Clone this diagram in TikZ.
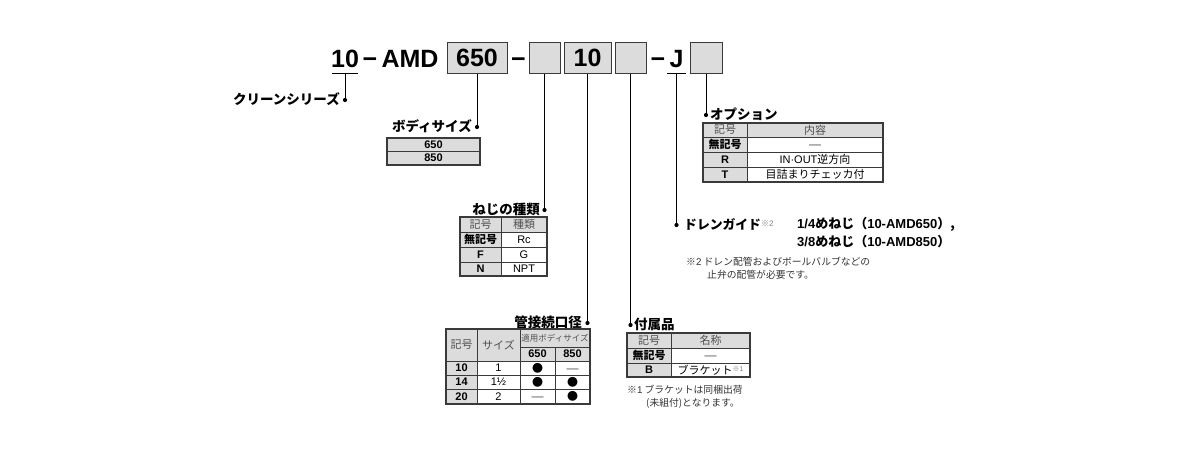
\documentclass[tikz,border=0pt]{standalone}
\usepackage{fontspec}
\setmainfont{Noto Sans CJK JP}
\newfontfamily\lat{Liberation Sans}
\usetikzlibrary{calc}
\definecolor{gr}{HTML}{DCDCDC}
\definecolor{bd}{HTML}{3A3A3A}
\definecolor{ht}{HTML}{505050}
\definecolor{nt}{HTML}{333333}
\newcommand\fs[1]{\fontsize{#1}{#1}\selectfont}
\newcommand\tcell[7]{%
  \draw[#6] (#2,#3) rectangle (#4,#5);
  \node[celltext] (#1) at ($(#2,#3)!.5!(#4,#5)$) {#7};}
\newcommand\emd{{\lat\fs{12}\color{ht}\vphantom{0}—}}
\newcommand\bul{{\fs{11}●}}
\tikzset{
  hdr/.style={fill=gr,draw=bd,line width=.6pt},
  dat/.style={fill=white,draw=bd,line width=.6pt},
  outer/.style={draw=bd,line width=1.3pt},
  celltext/.style={inner sep=0pt,font=\fs{11}},
  pbox/.style={draw=bd,fill=gr,line width=1pt,inner sep=0pt,font=\lat\bfseries\fs{25}},
  pnum/.style={inner sep=0pt,font=\lat\bfseries\fs{25}},
  conn/.style={draw=black,line width=1pt},
  dotc/.style={circle,fill=black,inner sep=0pt,minimum size=4.2pt},
  lbl/.style={inner sep=0pt,font=\bfseries\fs{13.5}},
  note/.style={inner sep=0pt,font=\fs{9.8},text=nt,anchor=west},
}
\begin{document}
\begin{tikzpicture}[x=1pt,y=-1pt]
\useasboundingbox[fill=white] (0,0) rectangle (1198,450);
% ---------- part number ----------
\node[pnum,anchor=base] (p10) at (345,67) {10};
\node[pnum,anchor=base] (m1) at (370,67) {−};
\node[pnum,anchor=base] (amd) at (410,67) {AMD};
\node[pbox,minimum width=60pt,minimum height=31pt] (b650) at (477,57.5) {650};
\node[pnum,anchor=base] (m2) at (518.5,67) {−};
\node[pbox,minimum width=31pt,minimum height=31pt] (b2) at (544.5,57.5) {};
\node[pbox,minimum width=47pt,minimum height=31pt] (b10) at (587.5,57.5) {10};
\node[pbox,minimum width=31pt,minimum height=31pt] (b4) at (630.5,57.5) {};
\node[pnum,anchor=base] (m3) at (658,67) {−};
\node[pnum,anchor=base] (pj) at (676.5,67) {J};
\node[pbox,minimum width=32pt,minimum height=31pt] (b5) at (706,57.5) {};
\draw[line width=1.5pt] (332,73.5) -- (358,73.5);
\draw[line width=1.5pt] (667,73.5) -- (686,73.5);
\coordinate (u10) at (345,73.5);
\coordinate (uj) at (676.5,73.5);
% ---------- dots ----------
\node[dotc] (d1) at (345,100) {};
\node[dotc] (d2) at (477,127) {};
\node[dotc] (d3) at (544.5,210) {};
\node[dotc] (d4) at (587.5,323) {};
\node[dotc] (d5) at (630.5,325) {};
\node[dotc] (d6) at (676.5,225) {};
\node[dotc] (d7) at (706,115) {};
\draw[conn] (u10) -- (d1.center);
\draw[conn] (b650.south) -- (d2.center);
\draw[conn] (b2.south) -- (d3.center);
\draw[conn] (b10.south) -- (d4.center);
\draw[conn] (b4.south) -- (d5.center);
\draw[conn] (uj) -- (d6.center);
\draw[conn] (b5.south) -- (d7.center);
% ---------- labels ----------
\node[lbl,anchor=east] (l1) at (340,99) {クリーンシリーズ};
\node[lbl,anchor=east] (l2) at (472,126) {ボディサイズ};
\node[lbl,anchor=east] (l3) at (540,209) {ねじの種類};
\node[lbl,anchor=east] (l4) at (582,322) {管接続口径};
\node[lbl,anchor=west] (l5) at (634,324) {付属品};
\node[lbl,anchor=west] (l7) at (710,114) {オプション};
\node[lbl,anchor=west,font=\bfseries\fs{12.8}] (l6) at (684,224) {ドレンガイド\raisebox{3pt}{\fs{8}\mdseries\color{gray}※\lat 2}};
\node[inner sep=0pt,anchor=west,font=\bfseries\fs{13}] (dr1) at (797,224) {{\lat 1/4}めねじ（{\lat 10-AMD650}）,};
\node[inner sep=0pt,anchor=west,font=\bfseries\fs{13}] (dr2) at (797,242) {{\lat 3/8}めねじ（{\lat 10-AMD850}）};
\node[note] (n2a) at (686,262) {※{\lat 2} ドレン配管およびボールバルブなどの};
\node[note] (n2b) at (707,275) {止弁の配管が必要です。};
% ---------- body size table ----------
\tcell{bs1}{387}{138}{480}{151}{hdr}{\lat\bfseries 650}
\tcell{bs2}{387}{151}{480}{165}{hdr}{\lat\bfseries 850}
\draw[outer] (387,138) rectangle (480,165);
% ---------- thread table ----------
\tcell{th11}{460}{217}{501}{232}{hdr}{\color{ht}記号}
\tcell{th12}{501}{217}{547}{232}{hdr}{\color{ht}種類}
\tcell{th21}{460}{232}{501}{247}{hdr}{\bfseries 無記号}
\tcell{th22}{501}{232}{547}{247}{dat}{\lat Rc}
\tcell{th31}{460}{247}{501}{262}{hdr}{\lat\bfseries F}
\tcell{th32}{501}{247}{547}{262}{dat}{\lat G}
\tcell{th41}{460}{262}{501}{276}{hdr}{\lat\bfseries N}
\tcell{th42}{501}{262}{547}{276}{dat}{\lat NPT}
\draw[outer] (460,217) rectangle (547,276);
% ---------- port table ----------
\tcell{pt11}{446}{329}{477}{361}{hdr}{\color{ht}記号}
\tcell{pt12}{477}{329}{520}{361}{hdr}{\color{ht}サイズ}
\tcell{pt13}{520}{329}{590}{347}{hdr}{\fs{8.5}\color{ht}適用ボディサイズ}
\tcell{pt23}{520}{347}{555}{361}{hdr}{\lat\bfseries 650}
\tcell{pt24}{555}{347}{590}{361}{hdr}{\lat\bfseries 850}
\tcell{pt31}{446}{361}{477}{375}{hdr}{\lat\bfseries 10}
\tcell{pt32}{477}{361}{520}{375}{dat}{\lat 1}
\tcell{pt33}{520}{361}{555}{375}{dat}{\bul}
\tcell{pt34}{555}{361}{590}{375}{dat}{\emd}
\tcell{pt41}{446}{375}{477}{389}{hdr}{\lat\bfseries 14}
\tcell{pt42}{477}{375}{520}{389}{dat}{\lat 1½}
\tcell{pt43}{520}{375}{555}{389}{dat}{\bul}
\tcell{pt44}{555}{375}{590}{389}{dat}{\bul}
\tcell{pt51}{446}{389}{477}{404}{hdr}{\lat\bfseries 20}
\tcell{pt52}{477}{389}{520}{404}{dat}{\lat 2}
\tcell{pt53}{520}{389}{555}{404}{dat}{\emd}
\tcell{pt54}{555}{389}{590}{404}{dat}{\bul}
\draw[outer] (446,329) rectangle (590,404);
% ---------- accessory table ----------
\tcell{ac11}{627}{333}{671}{348}{hdr}{\color{ht}記号}
\tcell{ac12}{671}{333}{750}{348}{hdr}{\color{ht}名称}
\tcell{ac21}{627}{348}{671}{363}{hdr}{\bfseries 無記号}
\tcell{ac22}{671}{348}{750}{363}{dat}{\emd}
\tcell{ac31}{627}{363}{671}{377}{hdr}{\lat\bfseries B}
\tcell{ac32}{671}{363}{750}{377}{dat}{ブラケット\raisebox{3pt}{\fs{7}\color{gray}※\lat 1}}
\draw[outer] (627,333) rectangle (750,377);
\node[note] (n1a) at (627,390) {※{\lat 1} ブラケットは同梱出荷};
\node[note] (n1b) at (646,403) {(未組付)となります。};
% ---------- option table ----------
\tcell{op11}{703}{123}{747}{137}{hdr}{\color{ht}記号}
\tcell{op12}{747}{123}{883}{137}{hdr}{\color{ht}内容}
\tcell{op21}{703}{137}{747}{152}{hdr}{\bfseries 無記号}
\tcell{op22}{747}{137}{883}{152}{dat}{\emd}
\tcell{op31}{703}{152}{747}{167}{hdr}{\lat\bfseries R}
\tcell{op32}{747}{152}{883}{167}{dat}{{\lat IN·OUT}逆方向}
\tcell{op41}{703}{167}{747}{182}{hdr}{\lat\bfseries T}
\tcell{op42}{747}{167}{883}{182}{dat}{目詰まりチェッカ付}
\draw[outer] (703,123) rectangle (883,182);
\end{tikzpicture}
\end{document}
